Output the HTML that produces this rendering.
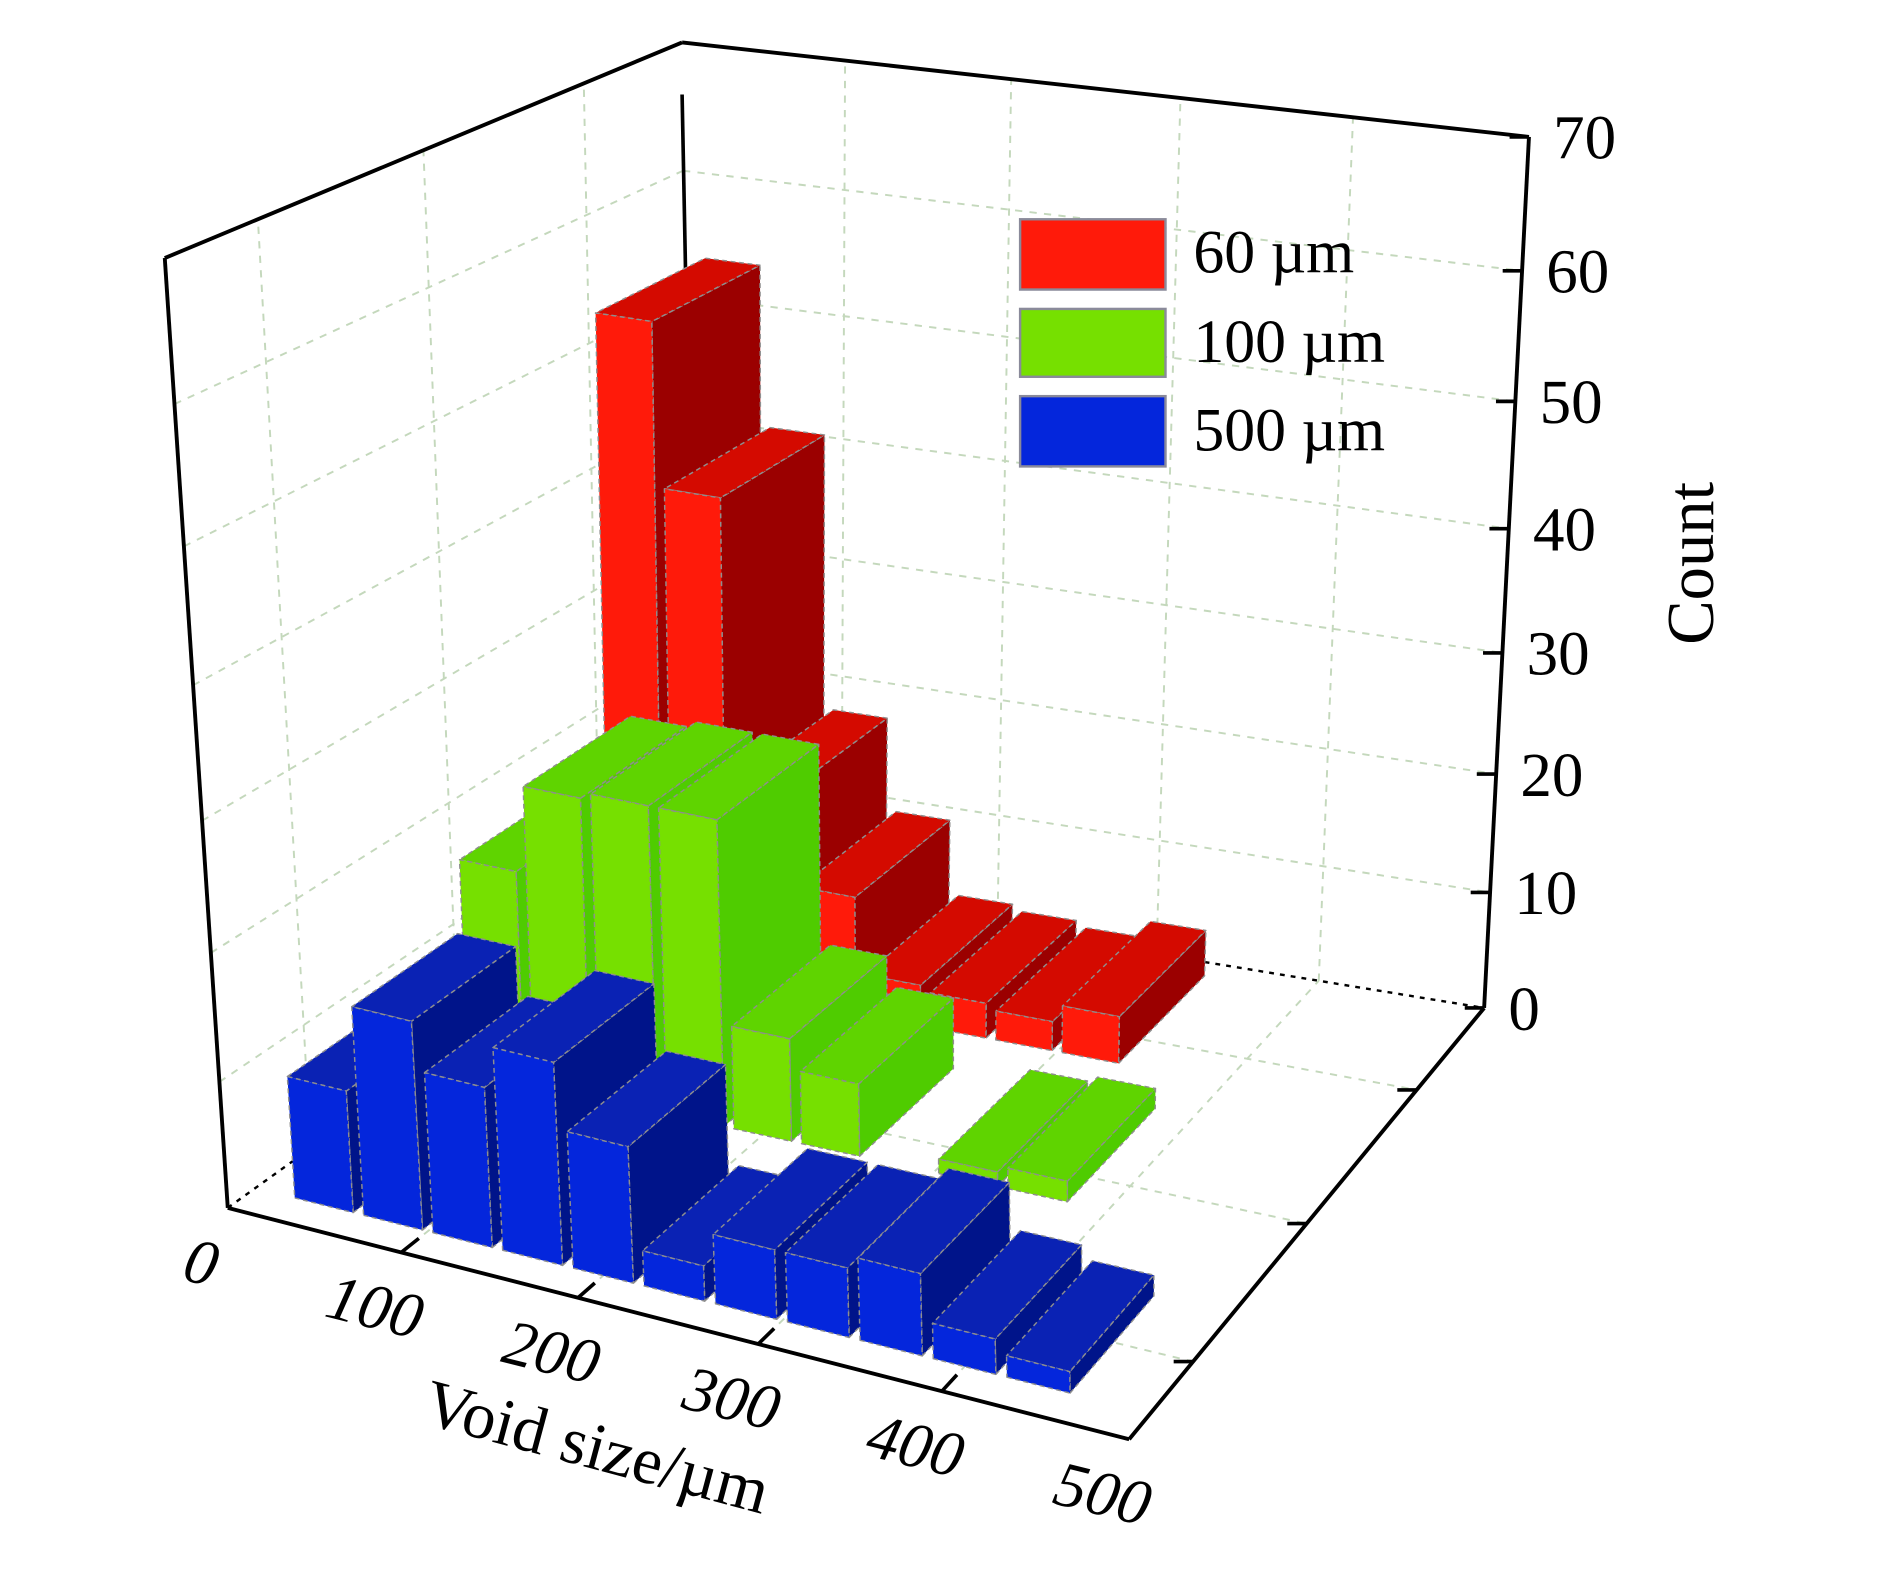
<!DOCTYPE html>
<html><head><meta charset="utf-8"><style>
html,body{margin:0;padding:0;background:#fff;}
svg{display:block;}
text{font-family:"Liberation Serif",serif;fill:#000;}
</style></head><body>
<svg id="chart" width="1890" height="1573" viewBox="0 0 1560 1298.4" preserveAspectRatio="none" xmlns="http://www.w3.org/2000/svg">
<g id="grid"></g>
<g id="axes-back"></g>
<g id="bars"></g>
<g id="axes"></g>
<g id="labels"></g>
<g id="legend">
  <g>
    <rect x="842" y="181" width="120" height="58" fill="#ff1a0a" stroke="#8a8a9a" stroke-width="2"/>
    <text x="985" y="225" font-size="51">60 µm</text>
  </g>
  <g>
    <rect x="842" y="255" width="120" height="56" fill="#76e000" stroke="#8a8a9a" stroke-width="2"/>
    <text x="985" y="299" font-size="51">100 µm</text>
  </g>
  <g>
    <rect x="842" y="327" width="120" height="58" fill="#0426dc" stroke="#8a8a9a" stroke-width="2"/>
    <text x="985" y="372" font-size="51">500 µm</text>
  </g>
</g>
</svg>
<script>
// ---- data ----
const binCenters = [40, 80, 120, 160, 200, 240, 280, 320, 360, 400, 440];
const series60 = [54, 41, 18, 10, 3.5, 3, 2.5, 4];
const series100 = [17.5, 24.5, 25, 25, 8.5, 6, 0, 1.2, 1.7];
const series500 = [9.7, 16.5, 12.7, 16, 10.8, 2.8, 5.5, 5.5, 6.5, 2.8, 1.7];
const xTicks = [0, 100, 200, 300, 400, 500];
const zTicks = [0, 10, 20, 30, 40, 50, 60, 70];
const depthTicks = [0.18, 0.5, 0.81];

// ---- projection ----
const NS = "http://www.w3.org/2000/svg";
const FLB=[188,997], FRB=[932,1188], BLB=[568,724], BRB=[1225,832];
const FLT=[136,213], FRT=[922,388], BLT=[563,35], BRT=[1262,113];
const XMAX=500, ZMAX=70, BARW=34;
function fx(t){return t/(t+(1-t)*1.049);}
function fz(t){return t/(t+(1-t)*1.09);}
function lerp(p,q,t){return [p[0]+(q[0]-p[0])*t, p[1]+(q[1]-p[1])*t];}
function bil(A,B,C,D,a,b){return lerp(lerp(A,B,a),lerp(C,D,a),b);}
function P(v,d,z){
  const a=fx(v/XMAX), c=fz(z/ZMAX);
  return lerp(bil(FLB,FRB,BLB,BRB,a,d), bil(FLT,FRT,BLT,BRT,a,d), c);
}
function line(g,p,q,stroke,w,dash){
  const l=document.createElementNS(NS,'line');
  l.setAttribute('x1',p[0]);l.setAttribute('y1',p[1]);l.setAttribute('x2',q[0]);l.setAttribute('y2',q[1]);
  l.setAttribute('stroke',stroke);l.setAttribute('stroke-width',w);
  if(dash)l.setAttribute('stroke-dasharray',dash);
  g.appendChild(l);return l;
}
function poly(g,pts,fill){
  const p=document.createElementNS(NS,'polygon');
  p.setAttribute('points',pts.map(q=>q[0].toFixed(1)+','+q[1].toFixed(1)).join(' '));
  p.setAttribute('fill',fill);p.setAttribute('stroke','#8e8e8e');p.setAttribute('stroke-width','1.2');
  p.setAttribute('stroke-dasharray','4,3');p.setAttribute('stroke-linejoin','round');
  g.appendChild(p);return p;
}

// ---- grid ----
const grid=document.getElementById('grid');
const GC='#c4d8bc';
for(const z of zTicks.slice(1)){
  let l=line(grid,P(0,0,z),P(0,1,z),GC,1.6,'6,6');
  
  
  l=line(grid,P(0,1,z),P(XMAX,1,z),GC,1.6,'6,6');
  
  
}
for(const v of xTicks.slice(1,5)){
  let l=line(grid,P(v,1,0),P(v,1,ZMAX),GC,1.6,'6,6');
  
  
  l=line(grid,P(v,0,0),P(v,1,0),GC,1.6,'6,6');
  
  
}
for(const d of depthTicks){
  let l=line(grid,P(0,d,0),P(0,d,ZMAX),GC,1.6,'6,6');
  
  
  l=line(grid,P(0,d,0),P(XMAX,d,0),GC,1.6,'6,6');
  
  
}
const ab=document.getElementById('axes-back');
let bl=line(ab,P(0,1,0),P(XMAX,1,0),'#000',2,'4,5');


bl=line(ab,P(0,0,0),P(0,1,0),'#000',2,'4,5');


bl=line(ab,[563,78],[566,232],'#000',3);



// ---- bars ----
const barsG=document.getElementById('bars');
const rows=[
  {name:'60um',vals:series60,d0:0.75,d1:0.97,front:'#ff1a0a',side:'#9b0000',top:'#d40a00'},
  {name:'100um',vals:series100,d0:0.44,d1:0.67,front:'#76e000',side:'#4fcc00',top:'#5fd400'},
  {name:'500um',vals:series500,d0:0.06,d1:0.29,front:'#0426dc',side:'#00148a',top:'#0a22b4'}
];
for(const r of rows){
  r.vals.forEach((h,i)=>{
    if(h<=0)return;
    const x0=binCenters[i]-BARW/2, x1=binCenters[i]+BARW/2;
    const g=document.createElementNS(NS,'g');
    
    
    poly(g,[P(x1,r.d0,0),P(x1,r.d1,0),P(x1,r.d1,h),P(x1,r.d0,h)],r.side);
    poly(g,[P(x0,r.d0,h),P(x1,r.d0,h),P(x1,r.d1,h),P(x0,r.d1,h)],r.top);
    poly(g,[P(x0,r.d0,0),P(x1,r.d0,0),P(x1,r.d0,h),P(x0,r.d0,h)],r.front);
    barsG.appendChild(g);
  });
}

// ---- axes ----
const ax=document.getElementById('axes');
[[P(0,0,0),P(XMAX,0,0),'x-axis-line'],[P(XMAX,0,0),P(XMAX,1,0),'depth-axis-line'],
 [P(XMAX,1,0),P(XMAX,1,ZMAX),'count-axis-line'],[P(0,0,0),P(0,0,ZMAX),'front-left-edge'],
 [P(0,0,ZMAX),P(0,1,ZMAX),'top-left-edge'],[P(0,1,ZMAX),P(XMAX,1,ZMAX),'top-back-edge']].forEach(s=>{
  const l=line(ax,s[0],s[1],'#000',3.2);
  
  
});
const lab=document.getElementById('labels');
function txt(x,y,s,size,rot,anchor,name){
  const t=document.createElementNS(NS,'text');
  t.setAttribute('x',x);t.setAttribute('y',y);t.setAttribute('font-size',size);
  t.setAttribute('text-anchor',anchor||'middle');
  if(rot)t.setAttribute('transform','rotate('+rot+' '+x+' '+y+')');
  t.textContent=s;
  
  
  lab.appendChild(t);return t;
}
xTicks.forEach(v=>{
  const p=P(v,0,0);
  if(v>0&&v<XMAX){
    const l=line(ax,p,P(v,0.04,0),'#000',3);
    
    
  }
  const t=txt(p[0]-26,p[1]+62,String(v),53,14,'middle','x-tick-label');
  t.setAttribute('font-style','italic');
});
zTicks.forEach(z=>{
  const p=P(XMAX,1,z);
  const l=line(ax,p,[p[0]-16,p[1]],'#000',3);
  
  
  txt(p[0]+20,p[1]+18,String(z),52,0,'start','count-tick-label');
});
depthTicks.forEach(d=>{
  const p=P(XMAX,d,0);
  const l=line(ax,p,[p[0]-16,p[1]],'#000',3);
  
  
});
txt(488,1212,'Void size/µm',55,15,'middle','x-axis-title');
txt(1414,465,'Count',55,-90,'middle','count-axis-title');
</script>
</body></html>
